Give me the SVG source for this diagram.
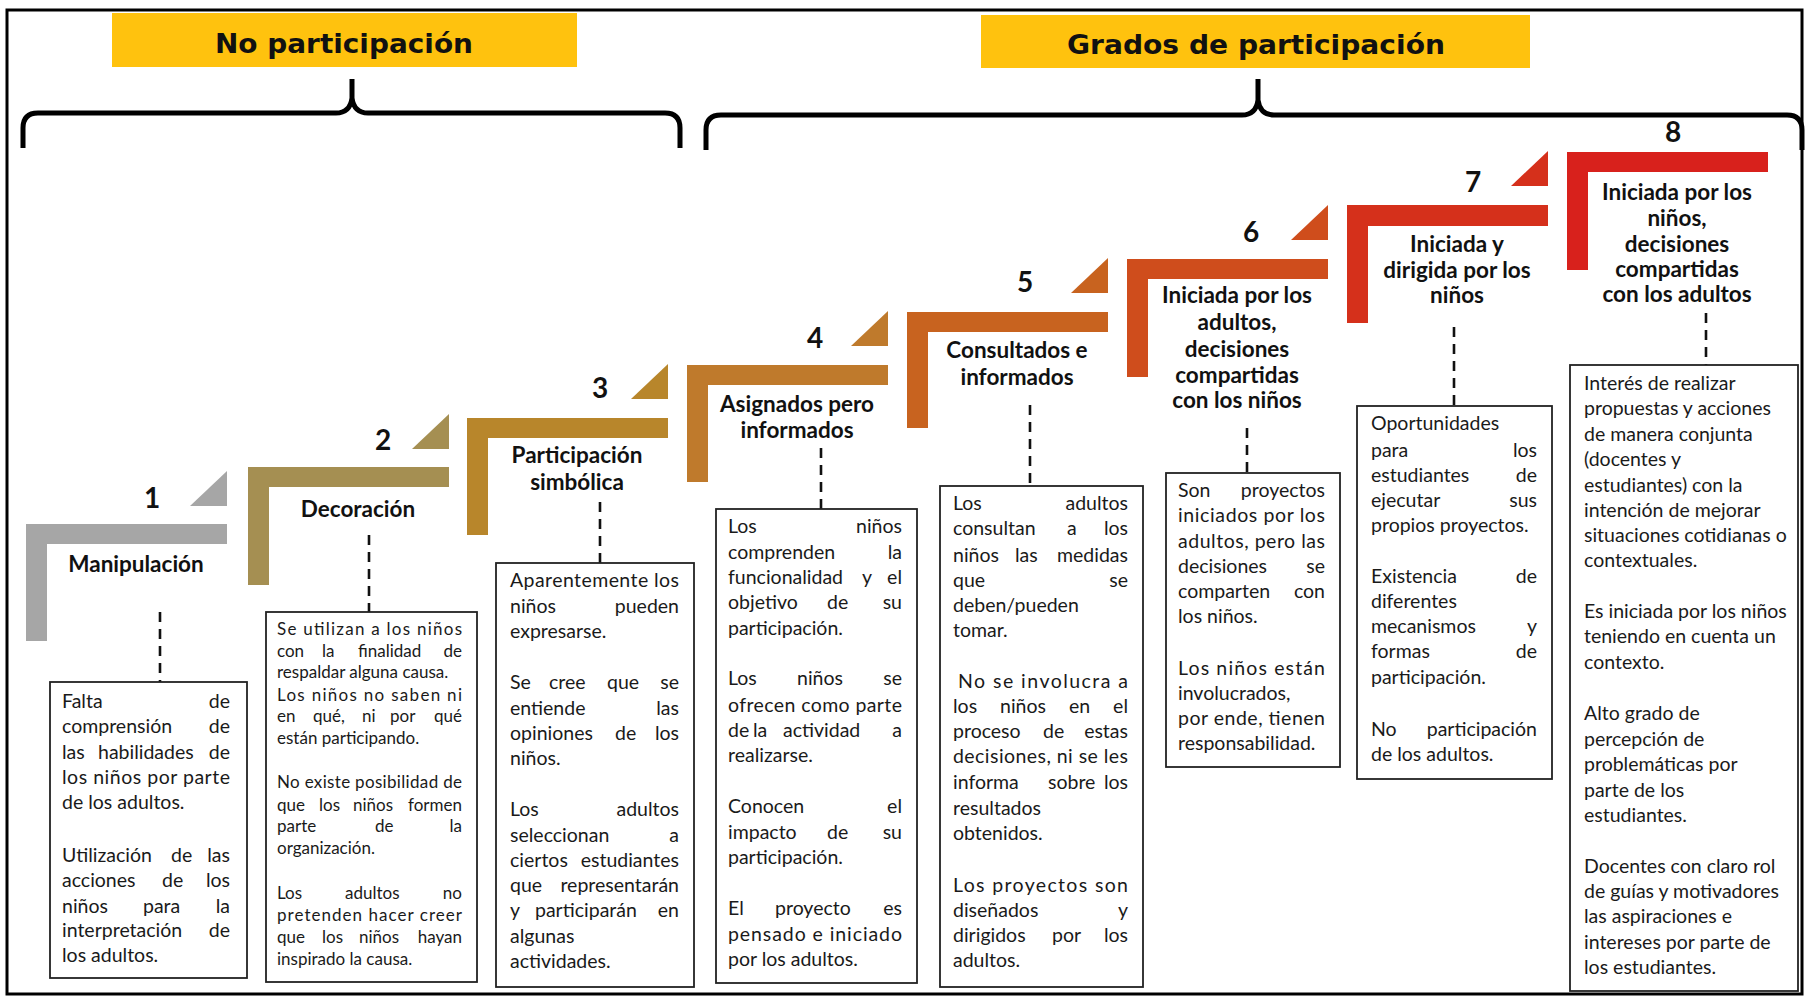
<svg xmlns="http://www.w3.org/2000/svg" width="1805" height="997" viewBox="0 0 1805 997">
<defs>
<style>
.frame{fill:#ffffff;stroke:#000;stroke-width:3}
.hdr{fill:#FFC20E}
.hd{font-family:"DejaVu Sans",sans-serif;font-weight:bold;font-size:27px;fill:#111;text-anchor:middle}
.brace{fill:none;stroke:#000;stroke-width:5}
.num{font-family:Lato,"Liberation Sans",sans-serif;font-weight:bold;font-size:28px;fill:#111;text-anchor:middle}
.lb{font-family:Lato,"Liberation Sans",sans-serif;font-weight:bold;font-size:22.5px;fill:#111;text-anchor:middle}
.box{fill:#fff;stroke:#222;stroke-width:1.8}
.bt{font-family:Lato,"Liberation Sans",sans-serif;font-size:19.5px;fill:#1a1a1a}
.b2{font-family:Lato,"Liberation Sans",sans-serif;font-size:17px;fill:#1a1a1a}
.e{text-anchor:end}
.dash{stroke:#111;stroke-width:2.6;stroke-dasharray:10 7;fill:none}
</style>
</defs>

<rect class="frame" x="7" y="10" width="1795" height="984"/>

<g id="header-no-participacion">
<rect class="hdr" x="112" y="13" width="465" height="54"/>
<text class="hd" x="344" y="53" textLength="258" lengthAdjust="spacingAndGlyphs">No participación</text>
<path class="brace" d="M23,148 L23,128 Q23,113 38,113 L336,113 Q350,113 352,98 L352,79 M352,98 Q354,113 368,113 L665,113 Q680,113 680,128 L680,148"/>
</g>

<g id="header-grados">
<rect class="hdr" x="981" y="15" width="549" height="53"/>
<text class="hd" x="1256" y="54" textLength="378" lengthAdjust="spacingAndGlyphs">Grados de participación</text>
<path class="brace" d="M706,150 L706,130 Q706,115 721,115 L1242,115 Q1256,115 1258,100 L1258,79 M1258,100 Q1260,115 1274,115 L1787,115 Q1802,115 1802,130 L1802,150"/>
</g>

<g id="step1">
<polygon fill="#a6a6a6" points="26,524 227,524 227,544 47,544 47,641 26,641"/>
<polygon fill="#a6a6a6" points="190,506 227,506 227,471"/>
<text class="num" x="152" y="508">1</text>
<text class="lb" x="136" y="572">Manipulación</text>
</g>

<g id="step2">
<polygon fill="#a58f52" points="248,467 449,467 449,487 269,487 269,585 248,585"/>
<polygon fill="#a58f52" points="412,449 449,449 449,414"/>
<text class="num" x="383" y="450">2</text>
<text class="lb" x="358" y="517">Decoración</text>
</g>

<g id="step3">
<polygon fill="#b8862b" points="467,418 668,418 668,438 488,438 488,535 467,535"/>
<polygon fill="#b8862b" points="631,399 668,399 668,364"/>
<text class="num" x="600" y="398">3</text>
<text class="lb" x="577" y="463">Participación</text>
<text class="lb" x="577" y="490">simbólica</text>
</g>

<g id="step4">
<polygon fill="#bf7a2c" points="687,365 888,365 888,385 708,385 708,482 687,482"/>
<polygon fill="#bf7a2c" points="851,346 888,346 888,311"/>
<text class="num" x="815" y="348">4</text>
<text class="lb" x="797" y="412">Asignados pero</text>
<text class="lb" x="797" y="438">informados</text>
</g>

<g id="step5">
<polygon fill="#c8631f" points="907,312 1108,312 1108,332 928,332 928,428 907,428"/>
<polygon fill="#c8631f" points="1071,293 1108,293 1108,258"/>
<text class="num" x="1025" y="292">5</text>
<text class="lb" x="1017" y="358">Consultados e</text>
<text class="lb" x="1017" y="385">informados</text>
</g>

<g id="step6">
<polygon fill="#cf4d1c" points="1127,259 1328,259 1328,279 1148,279 1148,377 1127,377"/>
<polygon fill="#cf4d1c" points="1291,240 1328,240 1328,205"/>
<text class="num" x="1251" y="242">6</text>
<text class="lb" x="1237" y="303">Iniciada por los</text>
<text class="lb" x="1237" y="330">adultos,</text>
<text class="lb" x="1237" y="357">decisiones</text>
<text class="lb" x="1237" y="383">compartidas</text>
<text class="lb" x="1237" y="408">con los niños</text>
</g>

<g id="step7">
<polygon fill="#d5301b" points="1347,205 1548,205 1548,226 1368,226 1368,323 1347,323"/>
<polygon fill="#d5301b" points="1511,186 1548,186 1548,151"/>
<text class="num" x="1473" y="192">7</text>
<text class="lb" x="1457" y="252">Iniciada y</text>
<text class="lb" x="1457" y="278">dirigida por los</text>
<text class="lb" x="1457" y="303">niños</text>
</g>

<g id="step8">
<polygon fill="#d8211c" points="1567,152 1768,152 1768,172 1588,172 1588,270 1567,270"/>
<text class="num" x="1673" y="142">8</text>
<text class="lb" x="1677" y="200">Iniciada por los</text>
<text class="lb" x="1677" y="226">niños,</text>
<text class="lb" x="1677" y="252">decisiones</text>
<text class="lb" x="1677" y="277">compartidas</text>
<text class="lb" x="1677" y="302">con los adultos</text>
</g>

<g id="connectors">
<line class="dash" x1="160" y1="612" x2="160" y2="682"/>
<line class="dash" x1="369" y1="535" x2="369" y2="612"/>
<line class="dash" x1="600" y1="502" x2="600" y2="563"/>
<line class="dash" x1="821" y1="448" x2="821" y2="509"/>
<line class="dash" x1="1030" y1="405" x2="1030" y2="486"/>
<line class="dash" x1="1247" y1="428" x2="1247" y2="473"/>
<line class="dash" x1="1454" y1="327" x2="1454" y2="406"/>
<line class="dash" x1="1706" y1="313" x2="1706" y2="365"/>
</g>

<g id="box1">
<rect class="box" x="50" y="682" width="197" height="296"/>
<text class="bt" y="708"><tspan x="62">Falta</tspan><tspan class="e" x="230">de</tspan></text>
<text class="bt" y="733"><tspan x="62">comprensión</tspan><tspan class="e" x="230">de</tspan></text>
<text class="bt" y="759"><tspan x="62">las</tspan><tspan x="98">habilidades</tspan><tspan class="e" x="230">de</tspan></text>
<text class="bt" x="62" y="784" textLength="168" lengthAdjust="spacing">los niños por parte</text>
<text class="bt" x="62" y="809">de los adultos.</text>
<text class="bt" y="862"><tspan x="62">Utilización</tspan><tspan x="171">de</tspan><tspan class="e" x="230">las</tspan></text>
<text class="bt" y="887"><tspan x="62">acciones</tspan><tspan x="162">de</tspan><tspan class="e" x="230">los</tspan></text>
<text class="bt" y="913"><tspan x="62">niños</tspan><tspan x="143">para</tspan><tspan class="e" x="230">la</tspan></text>
<text class="bt" y="937"><tspan x="62">interpretación</tspan><tspan class="e" x="230">de</tspan></text>
<text class="bt" x="62" y="962">los adultos.</text>
</g>

<g id="box2">
<rect class="box" x="266" y="612" width="211" height="370"/>
<text class="b2" x="277" y="635" textLength="185" lengthAdjust="spacing">Se utilizan a los niños</text>
<text class="b2" y="657"><tspan x="277">con</tspan><tspan x="322">la</tspan><tspan x="358">finalidad</tspan><tspan class="e" x="462">de</tspan></text>
<text class="b2" x="277" y="678">respaldar alguna causa.</text>
<text class="b2" x="277" y="701" textLength="185" lengthAdjust="spacing">Los niños no saben ni</text>
<text class="b2" y="722"><tspan x="277">en</tspan><tspan x="313">qué,</tspan><tspan x="362">ni</tspan><tspan x="390">por</tspan><tspan class="e" x="462">qué</tspan></text>
<text class="b2" x="277" y="744">están participando.</text>
<text class="b2" x="277" y="788" textLength="185" lengthAdjust="spacing">No existe posibilidad de</text>
<text class="b2" y="811"><tspan x="277">que</tspan><tspan x="319">los</tspan><tspan x="353">niños</tspan><tspan class="e" x="462">formen</tspan></text>
<text class="b2" y="832"><tspan x="277">parte</tspan><tspan x="375">de</tspan><tspan class="e" x="462">la</tspan></text>
<text class="b2" x="277" y="854">organización.</text>
<text class="b2" y="899"><tspan x="277">Los</tspan><tspan x="345">adultos</tspan><tspan class="e" x="462">no</tspan></text>
<text class="b2" x="277" y="921" textLength="185" lengthAdjust="spacing">pretenden hacer creer</text>
<text class="b2" y="943"><tspan x="277">que</tspan><tspan x="322">los</tspan><tspan x="359">niños</tspan><tspan class="e" x="462">hayan</tspan></text>
<text class="b2" x="277" y="965">inspirado la causa.</text>
</g>

<g id="box3">
<rect class="box" x="496" y="563" width="198" height="424"/>
<text class="bt" x="510" y="587" textLength="169" lengthAdjust="spacing">Aparentemente los</text>
<text class="bt" y="613"><tspan x="510">niños</tspan><tspan class="e" x="679">pueden</tspan></text>
<text class="bt" x="510" y="638">expresarse.</text>
<text class="bt" y="689"><tspan x="510">Se</tspan><tspan x="549">cree</tspan><tspan x="607">que</tspan><tspan class="e" x="679">se</tspan></text>
<text class="bt" y="715"><tspan x="510">entiende</tspan><tspan class="e" x="679">las</tspan></text>
<text class="bt" y="740"><tspan x="510">opiniones</tspan><tspan x="615">de</tspan><tspan class="e" x="679">los</tspan></text>
<text class="bt" x="510" y="765">niños.</text>
<text class="bt" y="816"><tspan x="510">Los</tspan><tspan class="e" x="679">adultos</tspan></text>
<text class="bt" y="842"><tspan x="510">seleccionan</tspan><tspan class="e" x="679">a</tspan></text>
<text class="bt" y="867"><tspan x="510">ciertos</tspan><tspan class="e" x="679">estudiantes</tspan></text>
<text class="bt" y="892"><tspan x="510">que</tspan><tspan class="e" x="679">representarán</tspan></text>
<text class="bt" y="917"><tspan x="510">y</tspan><tspan x="535">participarán</tspan><tspan class="e" x="679">en</tspan></text>
<text class="bt" x="510" y="943">algunas</text>
<text class="bt" x="510" y="968">actividades.</text>
</g>

<g id="box4">
<rect class="box" x="716" y="509" width="201" height="474"/>
<text class="bt" y="533"><tspan x="728">Los</tspan><tspan class="e" x="902">niños</tspan></text>
<text class="bt" y="559"><tspan x="728">comprenden</tspan><tspan class="e" x="902">la</tspan></text>
<text class="bt" y="584"><tspan x="728">funcionalidad</tspan><tspan x="862">y</tspan><tspan class="e" x="902">el</tspan></text>
<text class="bt" y="609"><tspan x="728">objetivo</tspan><tspan x="827">de</tspan><tspan class="e" x="902">su</tspan></text>
<text class="bt" x="728" y="635">participación.</text>
<text class="bt" y="685"><tspan x="728">Los</tspan><tspan x="797">niños</tspan><tspan class="e" x="902">se</tspan></text>
<text class="bt" x="728" y="712" textLength="174" lengthAdjust="spacing">ofrecen como parte</text>
<text class="bt" y="737"><tspan x="728">de</tspan><tspan x="753">la</tspan><tspan x="783">actividad</tspan><tspan class="e" x="902">a</tspan></text>
<text class="bt" x="728" y="762">realizarse.</text>
<text class="bt" y="813"><tspan x="728">Conocen</tspan><tspan class="e" x="902">el</tspan></text>
<text class="bt" y="839"><tspan x="728">impacto</tspan><tspan x="827">de</tspan><tspan class="e" x="902">su</tspan></text>
<text class="bt" x="728" y="864">participación.</text>
<text class="bt" y="915"><tspan x="728">El</tspan><tspan x="775">proyecto</tspan><tspan class="e" x="902">es</tspan></text>
<text class="bt" x="728" y="941" textLength="174" lengthAdjust="spacing">pensado e iniciado</text>
<text class="bt" x="728" y="966">por los adultos.</text>
</g>

<g id="box5">
<rect class="box" x="940" y="486" width="203" height="501"/>
<text class="bt" y="510"><tspan x="953">Los</tspan><tspan class="e" x="1128">adultos</tspan></text>
<text class="bt" y="535"><tspan x="953">consultan</tspan><tspan x="1067">a</tspan><tspan class="e" x="1128">los</tspan></text>
<text class="bt" y="562"><tspan x="953">niños</tspan><tspan x="1015">las</tspan><tspan class="e" x="1128">medidas</tspan></text>
<text class="bt" y="587"><tspan x="953">que</tspan><tspan class="e" x="1128">se</tspan></text>
<text class="bt" x="953" y="612">deben/pueden</text>
<text class="bt" x="953" y="637">tomar.</text>
<text class="bt" x="958" y="688" textLength="170" lengthAdjust="spacing">No se involucra a</text>
<text class="bt" y="713"><tspan x="953">los</tspan><tspan x="1000">niños</tspan><tspan x="1069">en</tspan><tspan class="e" x="1128">el</tspan></text>
<text class="bt" y="738"><tspan x="953">proceso</tspan><tspan x="1043">de</tspan><tspan class="e" x="1128">estas</tspan></text>
<text class="bt" x="953" y="763" textLength="175" lengthAdjust="spacing">decisiones, ni se les</text>
<text class="bt" y="789"><tspan x="953">informa</tspan><tspan x="1048">sobre</tspan><tspan class="e" x="1128">los</tspan></text>
<text class="bt" x="953" y="815">resultados</text>
<text class="bt" x="953" y="840">obtenidos.</text>
<text class="bt" x="953" y="892" textLength="175" lengthAdjust="spacing">Los proyectos son</text>
<text class="bt" y="917"><tspan x="953">diseñados</tspan><tspan class="e" x="1128">y</tspan></text>
<text class="bt" y="942"><tspan x="953">dirigidos</tspan><tspan x="1052">por</tspan><tspan class="e" x="1128">los</tspan></text>
<text class="bt" x="953" y="967">adultos.</text>
</g>

<g id="box6">
<rect class="box" x="1166" y="473" width="174" height="294"/>
<text class="bt" y="497"><tspan x="1178">Son</tspan><tspan class="e" x="1325">proyectos</tspan></text>
<text class="bt" x="1178" y="522" textLength="147" lengthAdjust="spacing">iniciados por los</text>
<text class="bt" x="1178" y="548" textLength="147" lengthAdjust="spacing">adultos, pero las</text>
<text class="bt" y="573"><tspan x="1178">decisiones</tspan><tspan class="e" x="1325">se</tspan></text>
<text class="bt" y="598"><tspan x="1178">comparten</tspan><tspan class="e" x="1325">con</tspan></text>
<text class="bt" x="1178" y="623">los niños.</text>
<text class="bt" x="1178" y="675" textLength="147" lengthAdjust="spacing">Los niños están</text>
<text class="bt" x="1178" y="700">involucrados,</text>
<text class="bt" x="1178" y="725" textLength="147" lengthAdjust="spacing">por ende, tienen</text>
<text class="bt" x="1178" y="750">responsabilidad.</text>
</g>

<g id="box7">
<rect class="box" x="1357" y="406" width="195" height="373"/>
<text class="bt" x="1371" y="430">Oportunidades</text>
<text class="bt" y="457"><tspan x="1371">para</tspan><tspan class="e" x="1537">los</tspan></text>
<text class="bt" y="482"><tspan x="1371">estudiantes</tspan><tspan class="e" x="1537">de</tspan></text>
<text class="bt" y="507"><tspan x="1371">ejecutar</tspan><tspan class="e" x="1537">sus</tspan></text>
<text class="bt" x="1371" y="532">propios proyectos.</text>
<text class="bt" y="583"><tspan x="1371">Existencia</tspan><tspan class="e" x="1537">de</tspan></text>
<text class="bt" x="1371" y="608">diferentes</text>
<text class="bt" y="633"><tspan x="1371">mecanismos</tspan><tspan class="e" x="1537">y</tspan></text>
<text class="bt" y="658"><tspan x="1371">formas</tspan><tspan class="e" x="1537">de</tspan></text>
<text class="bt" x="1371" y="684">participación.</text>
<text class="bt" y="736"><tspan x="1371">No</tspan><tspan class="e" x="1537">participación</tspan></text>
<text class="bt" x="1371" y="761">de los adultos.</text>
</g>

<g id="box8">
<rect class="box" x="1570" y="365" width="228" height="626"/>
<text class="bt" x="1584" y="390">Interés de realizar</text>
<text class="bt" x="1584" y="415">propuestas y acciones</text>
<text class="bt" x="1584" y="441">de manera conjunta</text>
<text class="bt" x="1584" y="466">(docentes y</text>
<text class="bt" x="1584" y="492">estudiantes) con la</text>
<text class="bt" x="1584" y="517">intención de mejorar</text>
<text class="bt" x="1584" y="542">situaciones cotidianas o</text>
<text class="bt" x="1584" y="567">contextuales.</text>
<text class="bt" x="1584" y="618">Es iniciada por los niños</text>
<text class="bt" x="1584" y="643">teniendo en cuenta un</text>
<text class="bt" x="1584" y="669">contexto.</text>
<text class="bt" x="1584" y="720">Alto grado de</text>
<text class="bt" x="1584" y="746">percepción de</text>
<text class="bt" x="1584" y="771">problemáticas por</text>
<text class="bt" x="1584" y="797">parte de los</text>
<text class="bt" x="1584" y="822">estudiantes.</text>
<text class="bt" x="1584" y="873">Docentes con claro rol</text>
<text class="bt" x="1584" y="898">de guías y motivadores</text>
<text class="bt" x="1584" y="923">las aspiraciones e</text>
<text class="bt" x="1584" y="949">intereses por parte de</text>
<text class="bt" x="1584" y="974">los estudiantes.</text>
</g>
</svg>
